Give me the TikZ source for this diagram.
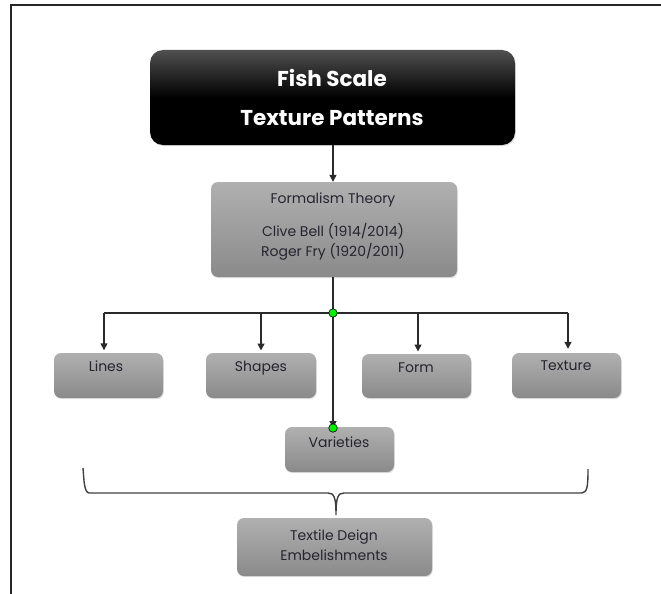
\documentclass[tikz,border=0pt]{standalone}
\usepackage{fontspec}
\setmainfont{Poppins}
\usetikzlibrary{arrows.meta,shadows}
\definecolor{boxtop}{HTML}{B0B0B0}
\definecolor{boxbot}{HTML}{8A8A8A}
\definecolor{titletop}{HTML}{505050}
\definecolor{linec}{HTML}{2A2A2A}
\definecolor{txtc}{HTML}{25252F}
\definecolor{dotc}{HTML}{00F000}
\begin{document}
\begin{tikzpicture}[x=1pt,y=-1pt,
  graybox/.style={rounded corners=7pt, top color=boxtop, bottom color=boxbot, draw=none,
    inner sep=0pt, drop shadow={opacity=0.25, shadow xshift=0.8pt, shadow yshift=-1.2pt}},
  titlebox/.style={rounded corners=13pt, top color=titletop, bottom color=black, middle color=black,
    draw=none, inner sep=0pt, drop shadow={opacity=0.25, shadow xshift=0.8pt, shadow yshift=-1.2pt}},
  lbl/.style={text=txtc, font=\fontsize{14}{19.5}\selectfont, inner sep=0pt, align=center},
  ttl/.style={text=white, font=\bfseries\fontsize{21.5}{24}\selectfont, inner sep=0pt},
  conn/.style={draw=linec, line width=1.4pt},
  arr/.style={conn, -{Triangle[length=7pt,width=7pt]}},
  gdot/.style={circle, fill=dotc, draw=black, line width=0.6pt, minimum size=8.5pt, inner sep=0pt}
]
\useasboundingbox (0,0) rectangle (661,594);
% frame
\draw[line width=1.6pt, black!85] (661,5) -- (11,5) -- (11,594);

% title
\node[titlebox, minimum width=365pt, minimum height=95pt] (title) at (332.5,97.5) {};
\node[ttl] (t1) at (332,78) {Fish Scale};
\node[ttl] (t2) at (332,118) {Texture Patterns};

% formalism
\node[graybox, minimum width=246pt, minimum height=95pt] (form) at (334,229.5) {};
\node[lbl] (f1) at (333,200) {Formalism Theory};
\node[lbl, align=center] (f2) at (333,242) {Clive Bell (1914/2014)\\Roger Fry (1920/2011)};

% level boxes
\node[graybox, minimum width=109pt, minimum height=45pt] (lines) at (108.5,375.5) {};
\node[lbl] (linesT) at (106,366) {Lines};
\node[graybox, minimum width=110pt, minimum height=45pt] (shapes) at (261,375.5) {};
\node[lbl] (shapesT) at (261,368) {Shapes};
\node[graybox, minimum width=109pt, minimum height=44pt] (formb) at (416.5,376) {};
\node[lbl] (formT) at (416,368) {Form};
\node[graybox, minimum width=109pt, minimum height=45pt] (texture) at (566.5,375.5) {};
\node[lbl] (textureT) at (566,366) {Texture};
\node[graybox, minimum width=109pt, minimum height=45pt] (var) at (339.5,449.5) {};
\node[lbl] (varT) at (339,442) {Varieties};
\node[graybox, minimum width=195pt, minimum height=58pt] (textile) at (334.5,547) {};
\node[lbl] (textileT) at (334,545) {Textile Deign\\Embelishments};

% connectors
\draw[arr] (title.south -| 333,0) -- (form.north -| 333,0);
\coordinate (j) at (333,313);
\draw[conn] (form.south -| j) -- (j);
\coordinate (jl) at (104,313);
\coordinate (jr) at (568,313);
\draw[conn] (jl) -- (jr);
\draw[arr, shorten >=2.5pt] (jl) -- (jl |- lines.north);
\draw[arr, shorten >=2.5pt] (261,313) -- (261,353);
\draw[arr, shorten >=2.5pt] (418,313) -- (418,354);
\draw[arr, shorten >=4pt] (jr) -- (jr |- texture.north);
\coordinate (vtop) at (333,428);
\draw[arr] (j) -- (vtop);
\node[gdot] (d1) at (j) {};
\node[gdot] (d2) at (vtop) {};

% brace
\coordinate (bl) at (83,468);
\coordinate (br) at (588,469);
\coordinate (btip) at (336,515);
\draw[draw=black!75, line width=1.4pt]
  (bl) .. controls (84,480) and (84,492) .. (89,493) -- (328,493)
  .. controls (334,493) and (336,497) .. (btip)
  .. controls (336,497) and (338,493) .. (344,493) -- (582,493)
  .. controls (587,492) and (588,488) .. (br);
\end{tikzpicture}
\end{document}
